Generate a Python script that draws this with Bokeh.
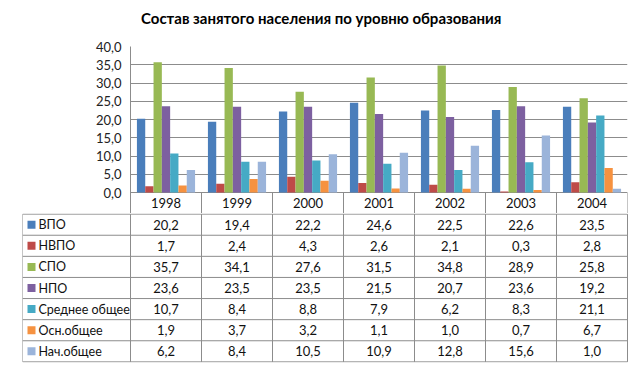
from bokeh.plotting import figure
from bokeh.models import Range1d, FactorRange, FixedTicker, ColumnDataSource, Div
from bokeh.transform import dodge
from bokeh.embed import file_html
from bokeh.resources import INLINE
from bokeh.core.properties import value

years = ["1998", "1999", "2000", "2001", "2002", "2003", "2004"]
series_names = ["ВПО", "НВПО", "СПО", "НПО", "Среднее  общее", "Осн.общее", "Нач.общее"]
vpo = [20.2, 19.4, 22.2, 24.6, 22.5, 22.6, 23.5]
nvpo = [1.7, 2.4, 4.3, 2.6, 2.1, 0.3, 2.8]
spo = [35.7, 34.1, 27.6, 31.5, 34.8, 28.9, 25.8]
npo = [23.6, 23.5, 23.5, 21.5, 20.7, 23.6, 19.2]
sred = [10.7, 8.4, 8.8, 7.9, 6.2, 8.3, 21.1]
osn = [1.9, 3.7, 3.2, 1.1, 1.0, 0.7, 6.7]
nach = [6.2, 8.4, 10.5, 10.9, 12.8, 15.6, 1.0]
series_values = [vpo, nvpo, spo, npo, sred, osn, nach]
colors = ["#4A7EBB", "#BE4B48", "#98B954", "#7D60A0", "#46AAC5", "#F69240", "#9BB4DA"]
y_ticks = [0, 5, 10, 15, 20, 25, 30, 35, 40]
title_text = "Состав занятого населения по уровню образования"

FONT = "Lato"
GRID = "#8C8C8C"
W = 633
ncol = len(years)
nrow = len(series_names)

def fmt(v):
    return f"{v:.1f}".replace(".", ",")

# ---------- title ----------
title_div = Div(
    text=('<div style="position:absolute;left:141px;top:8px;font-family:Lato;'
          'font-weight:bold;font-size:15px;white-space:nowrap;color:#000000">'
          + title_text + '</div>'),
    width=W, height=38, margin=(0, 0, 0, 0), styles={"position": "relative"})

# ---------- chart (with the year header row below the zero line) ----------
HDR = 5.75  # header row depth in value units
p = figure(width=W, height=175, x_range=FactorRange(*years, range_padding=0),
           y_range=Range1d(-HDR, 40), output_backend="svg", toolbar_location=None,
           min_border_left=130, min_border_right=6, min_border_top=8, min_border_bottom=0,
           x_axis_location=None)
p.outline_line_color = None

src = ColumnDataSource(dict(year=years, **{f"s{k}": series_values[k] for k in range(7)}))
bw = 0.117
for k in range(7):
    p.vbar(x=dodge("year", (k - 3) * bw, range=p.x_range), top=f"s{k}", width=bw,
           source=src, fill_color=colors[k], line_color=None)

p.yaxis.ticker = FixedTicker(ticks=y_ticks)
p.yaxis.major_label_overrides = {t: fmt(t) for t in y_ticks}
p.yaxis.major_tick_out = 0
p.yaxis.major_tick_in = 0
p.yaxis.minor_tick_out = 0
p.yaxis.minor_tick_in = 0
p.yaxis.axis_line_color = GRID
p.yaxis.major_label_standoff = 9
p.yaxis.major_label_text_font = FONT
p.yaxis.major_label_text_font_size = "13px"
p.yaxis.major_label_text_color = "#222222"
p.ygrid.ticker = FixedTicker(ticks=y_ticks)
p.ygrid.grid_line_color = GRID
p.xgrid.grid_line_color = None

vx = list(range(ncol + 1))
p.segment(x0=vx, y0=[-HDR] * len(vx), x1=vx, y1=[0] * len(vx), line_color=GRID, line_width=1)
p.text(x=years, y=[-HDR / 2] * ncol, text=years, text_align="center", text_baseline="middle",
       text_font=value(FONT), text_font_size="13px", text_color="#111111")

# ---------- table body ----------
left_ext = 108 / 71.0
q = figure(width=W, height=151, x_range=Range1d(-left_ext, 7.014), y_range=Range1d(7.03, -0.03),
           output_backend="svg", toolbar_location=None,
           min_border_left=22, min_border_right=5, min_border_top=0, min_border_bottom=2,
           x_axis_location=None, y_axis_location=None)
q.outline_line_color = None
q.xgrid.grid_line_color = None
q.ygrid.grid_line_color = None

hy = list(range(nrow + 1))
q.segment(x0=[-left_ext] * len(hy), y0=hy, x1=[ncol] * len(hy), y1=hy, line_color=GRID, line_width=1)
q.segment(x0=vx, y0=[0] * len(vx), x1=vx, y1=[nrow] * len(vx), line_color=GRID, line_width=1)
q.segment(x0=[-left_ext], y0=[0], x1=[-left_ext], y1=[nrow], line_color=GRID, line_width=1)

cx, cy, ct = [], [], []
for k, vals in enumerate(series_values):
    for i, v in enumerate(vals):
        cx.append(i + 0.5)
        cy.append(k + 0.5)
        ct.append(fmt(v))
q.text(x=cx, y=cy, text=ct, text_align="center", text_baseline="middle",
       text_font=value(FONT), text_font_size="13px", text_color="#111111")

ry = [k + 0.5 for k in range(nrow)]
q.scatter(x=[-left_ext + 9 / 71.0] * nrow, y=ry, marker="square", size=8, fill_color=colors,
          line_color=None)
q.text(x=[-left_ext] * nrow, y=ry, text=series_names, x_offset=16, text_align="left",
       text_baseline="middle", text_font=value(FONT), text_font_size="12.5px", text_color="#111111")

open("out.html", "w").write(file_html([title_div, p, q], INLINE))
